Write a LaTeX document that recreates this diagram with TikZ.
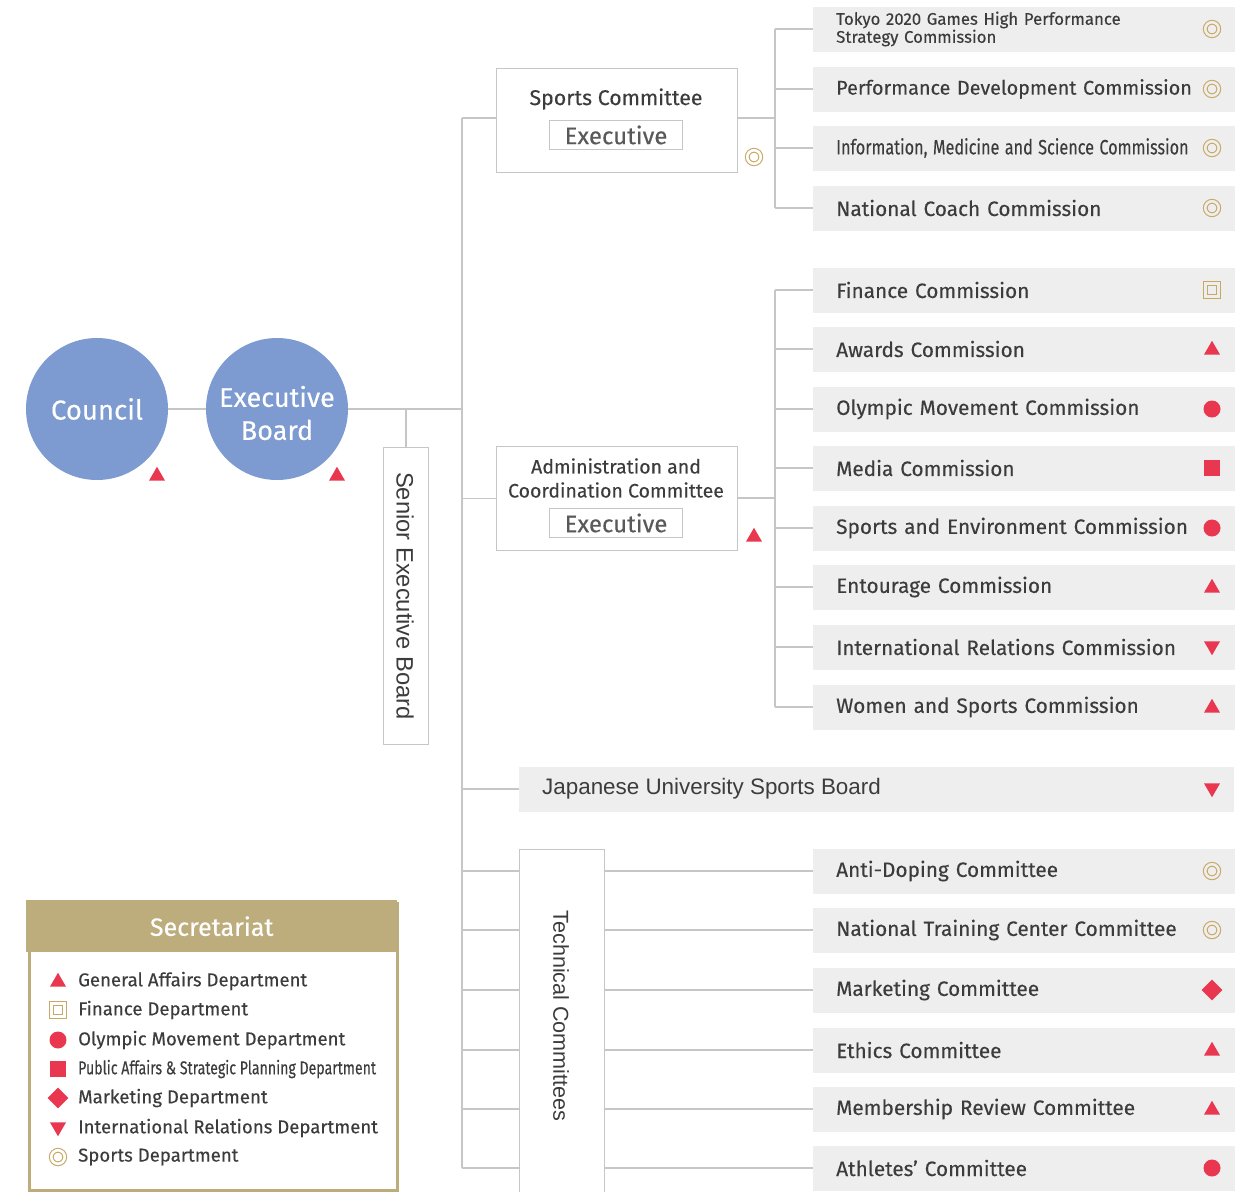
\documentclass[tikz,border=0pt]{standalone}
\usepackage{fontspec}
\setmainfont{Fira Sans}[FakeBold=0.25]
\newfontfamily\arialf{Liberation Sans}
\usetikzlibrary{shapes.geometric}
\definecolor{blueC}{HTML}{7D9BD0}
\definecolor{boxG}{HTML}{EEEEEE}
\definecolor{lineG}{HTML}{C6C6C6}
\definecolor{txt}{HTML}{3C3C3C}
\definecolor{gold}{HTML}{C8A863}
\definecolor{goldH}{HTML}{BEAD7C}
\definecolor{redM}{HTML}{E8374F}
\newcommand{\fsz}[2][1.2]{\fontsize{#2}{#1\dimexpr #2pt\relax}\selectfont}
\begin{document}
\begin{tikzpicture}[x=1pt,y=-1pt,
  conn/.style={draw=lineG, line width=1.3pt},
  circnode/.style={circle, fill=blueC, minimum size=142, inner sep=0},
  ctext/.style={text=white, align=center, inner sep=0, font=\fontsize{27}{33}\selectfont},
  rbox/.style={fill=boxG, minimum height=45, text width=376, inner xsep=23, inner ysep=0, align=left, text=txt, font=\fsz{20.8}, anchor=west},
  wbox/.style={draw=lineG, line width=1.2pt, fill=white, inner sep=0},
  exbox/.style={draw=lineG, line width=1.2pt, minimum width=133, minimum height=29, inner sep=0, text=txt!85, font=\fsz{24}},
  tup/.style={regular polygon, regular polygon sides=3, fill=redM, minimum size=18.5, inner sep=0},
  tdn/.style={tup, shape border rotate=180},
  rdot/.style={circle, fill=redM, minimum size=17, inner sep=0},
  rsq/.style={rectangle, fill=redM, minimum size=16, inner sep=0},
  rdia/.style={diamond, fill=redM, minimum width=21, minimum height=21, inner sep=0},
  gcirc/.style={circle, draw=gold, line width=1.1pt, double=#1, double distance=2.6pt, minimum size=13.5, inner sep=0},
  gcirc/.default=boxG,
  gsq/.style={rectangle, draw=gold, line width=1.1pt, double=#1, double distance=2.6pt, minimum size=13, inner sep=0},
  gsq/.default=boxG,
  legtxt/.style={anchor=west, inner sep=0, text=txt, font=\fsz{18.6}},
]
\useasboundingbox (0,0) rectangle (1249,1191);

% ---- circles
\node[circnode] (council) at (97,409) {};
\node[ctext, font=\fontsize{27.5}{33}\selectfont] (councilt) at (97,409) {Council};
\node[circnode] (eb) at (277,409) {};
\node[ctext] (ebt) at (277,413) {Executive\\Board};
\node[tup] (tc1) at (157,476) {};
\node[tup] (tc2) at (337,476) {};

% ---- senior executive board
\node[wbox, minimum width=45, minimum height=297, anchor=north west] (seb) at (383,447) {};
\node[rotate=-90, text=txt, font=\arialf\fsz{23.7}] (sebt) at (405,596) {Senior Executive Board};

% ---- trunk coordinates
\coordinate (trT) at (462,118);
\coordinate (trB) at (462,1168);
\coordinate (trM) at (462,409);

% ---- Sports Committee
\node[wbox, minimum width=241, minimum height=104, anchor=north west] (sc) at (496,68) {};
\node[text=txt, font=\fsz{21.3}] (sct) at (616,99) {Sports Committee};
\node[exbox] (scx) at (616,135) {Executive};
\node[gcirc=white] (scs) at (754,157) {};

% ---- Admin Committee
\node[wbox, minimum width=241, minimum height=104, anchor=north west] (ac) at (496,446) {};
\node[text=txt, font=\fontsize{19.5}{24}\selectfont, align=center, inner sep=0] (act) at (616,478) {Administration and\\Coordination Committee};
\node[exbox] (acx) at (616,523) {Executive};
\node[tup] (acs) at (754,537) {};

% ---- group junctions
\coordinate (jS) at (775,118);
\coordinate (jA) at (775,498);

% ---- Sports group boxes
\node[rbox, font=\fontsize{16.8}{18}\selectfont] (p1) at (813,29) {Tokyo 2020 Games High Performance\\Strategy Commission};
\node[rbox, font=\fsz{19.8}] (p2) at (813,89) {Performance Development Commission};
\node[rbox] (p3) at (813,148) {\scalebox{0.78}[1]{Information, Medicine and Science Commission}};
\node[rbox] (p4) at (813,208) {National Coach Commission};
\node[gcirc] (s1) at (1212,29) {};
\node[gcirc] (s2) at (1212,89) {};
\node[gcirc] (s3) at (1212,148) {};
\node[gcirc] (s4) at (1212,208) {};

% ---- Admin group boxes
\node[rbox] (a1) at (813,290) {Finance Commission};
\node[rbox] (a2) at (813,349) {Awards Commission};
\node[rbox] (a3) at (813,409) {Olympic Movement Commission};
\node[rbox] (a4) at (813,468) {Media Commission};
\node[rbox] (a5) at (813,528) {Sports and Environment Commission};
\node[rbox] (a6) at (813,587) {Entourage Commission};
\node[rbox] (a7) at (813,647) {International Relations Commission};
\node[rbox] (a8) at (813,707) {Women and Sports Commission};
\node[gsq] (b1) at (1212,290) {};
\node[tup] (b2) at (1212,350) {};
\node[rdot] (b3) at (1212,409) {};
\node[rsq] (b4) at (1212,468) {};
\node[rdot] (b5) at (1212,528) {};
\node[tup] (b6) at (1212,588) {};
\node[tdn] (b7) at (1212,646) {};
\node[tup] (b8) at (1212,708) {};

% ---- Japanese University Sports Board
\node[fill=boxG, minimum height=45, minimum width=715, anchor=west, inner sep=0] (jusb) at (519,789) {};
\node[anchor=west, text=txt, font=\arialf\fsz{22.4}, inner sep=0] (jusbt) at (542,789) {Japanese University Sports Board};
\node[tdn] (jusbs) at (1212,788) {};

% ---- Technical committees
\node[wbox, minimum width=85, minimum height=360, anchor=north west] (tc) at (519,849) {};
\node[rotate=-90, text=txt, font=\arialf\fsz{21.6}] (tct) at (561,1016) {Technical Committees};
\node[rbox] (t1) at (813,871) {Anti-Doping Committee};
\node[rbox] (t2) at (813,930) {National Training Center Committee};
\node[rbox] (t3) at (813,990) {Marketing Committee};
\node[rbox] (t4) at (813,1050) {Ethics Committee};
\node[rbox] (t5) at (813,1109) {Membership Review Committee};
\node[rbox] (t6) at (813,1168) {Athletes' Committee};
\node[gcirc] (u1) at (1212,871) {};
\node[gcirc] (u2) at (1212,930) {};
\node[rdia] (u3) at (1212,990) {};
\node[tup] (u4) at (1212,1051) {};
\node[tup] (u5) at (1212,1110) {};
\node[rdot] (u6) at (1212,1168) {};

% ---- connectors
\draw[conn] (council.east) -- (eb.west);
\draw[conn] (eb.east) -- (trM);
\draw[conn] (seb.north |- eb.east) -- (seb.north);
\draw[conn] (trT) -- (trB);
\draw[conn] (trT) -- (trT -| sc.west);
\draw[conn] (ac.west -| trT) -- (ac.west);
\draw[conn] (jusb.west -| trT) -- (jusb.west);
\foreach \n in {t1,t2,t3,t4,t5,t6}{
  \draw[conn] (\n.west -| trT) -- (\n.west -| tc.west);
  \draw[conn] (\n.west -| tc.east) -- (\n.west);
}
\draw[conn] (jS -| sc.east) -- (jS);
\draw[conn] (p1.west -| jS) -- (p4.west -| jS);
\foreach \n in {p1,p2,p3,p4}{ \draw[conn] (\n.west -| jS) -- (\n.west); }
\draw[conn] (jA -| ac.east) -- (jA);
\draw[conn] (a1.west -| jA) -- (a8.west -| jA);
\foreach \n in {a1,a2,a3,a4,a5,a6,a7,a8}{ \draw[conn] (\n.west -| jA) -- (\n.west); }

% ---- legend
\node[draw=goldH, line width=3pt, fill=white, minimum width=368, minimum height=287, anchor=north west, inner sep=0] (leg) at (27.5,901.5) {};
\node[fill=goldH, minimum width=371, minimum height=52, anchor=north west, inner sep=0, text=white, font=\fsz{25}] (legh) at (26,900) {Secretariat};
\node[tup] (l1) at (58,982) {};
\node[gsq=white] (l2) at (58,1010) {};
\node[rdot] (l3) at (58,1040) {};
\node[rsq] (l4) at (58,1069) {};
\node[rdia] (l5) at (58,1098) {};
\node[tdn] (l6) at (58,1127) {};
\node[gcirc=white] (l7) at (58,1157) {};
\node[legtxt] (lt1) at (78,981) {General Affairs Department};
\node[legtxt] (lt2) at (78,1010) {Finance Department};
\node[legtxt] (lt3) at (78,1040) {Olympic Movement Department};
\node[legtxt] (lt4) at (78,1069) {\scalebox{0.76}[1]{Public Affairs \& Strategic Planning Department}};
\node[legtxt] (lt5) at (78,1098) {Marketing Department};
\node[legtxt] (lt6) at (78,1128) {International Relations Department};
\node[legtxt] (lt7) at (78,1157) {Sports Department};
\end{tikzpicture}
\end{document}
